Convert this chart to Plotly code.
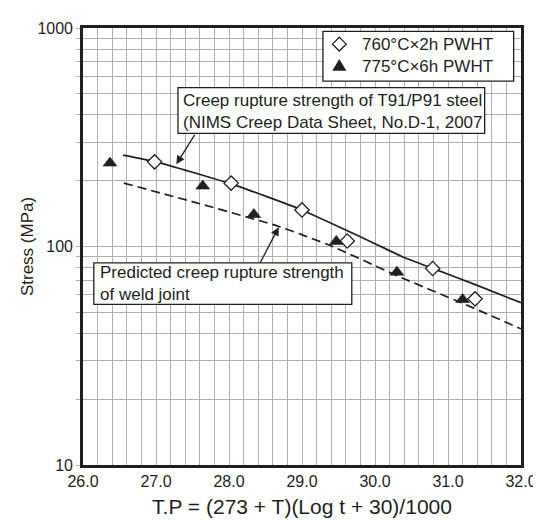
import plotly.graph_objects as go

# ---- data ----
solid_x = [26.55, 27.0, 28.0, 28.5, 29.0, 29.6, 30.0, 30.4, 30.8, 31.4, 32.0]
solid_y = [262, 244, 195, 170, 147, 119, 103, 89, 79.2, 66.4, 55.3]

dash_x = [26.56, 27.6, 28.67, 29.39, 30.33, 31.18, 32.0]
dash_y = [195, 157, 124, 101, 72.8, 55.3, 42]

d760_x = [26.98, 28.03, 29.0, 29.62, 30.79, 31.37]
d760_y = [244, 195, 147, 106, 79.3, 57.6]

t775_x = [26.37, 27.64, 28.34, 29.47, 30.30, 31.20]
t775_y = [241, 189, 140, 105.5, 76.3, 57.2]

x_ticks = [26, 27, 28, 29, 30, 31, 32]
x_tick_labels = ["26.0", "27.0", "28.0", "29.0", "30.0", "31.0", "32.0"]
y_ticks = [10, 100, 1000]
y_tick_labels = ["10", "100", "1000"]
y_minor = [m * d for d in (10, 100) for m in range(2, 10)]

legend_labels = ["760°C×2h PWHT", "775°C×6h PWHT"]
note_solid = ["Creep rupture strength of T91/P91 steel",
              "(NIMS Creep Data Sheet, No.D-1, 2007"]
note_dash = ["Predicted creep rupture strength", "of weld joint"]

# ---- layout geometry ----
W, H = 541, 520
L, R, T, B = 75, 20, 19, 54
PW, PH = W - L - R, H - T - B

def px(xp):
    return (xp - L) / PW

def py(yp):
    return (H - B - yp) / PH

FONT = "Liberation Sans, Arial, Helvetica, sans-serif"
INK = "#231f20"
GRID = "#b0b0b0"

fig = go.Figure()
fig.add_trace(go.Scatter(x=solid_x, y=solid_y, mode="lines",
                         line=dict(color=INK, width=1.7, shape="spline", smoothing=0.4),
                         showlegend=False, hoverinfo="skip"))
fig.add_trace(go.Scatter(x=dash_x, y=dash_y, mode="lines",
                         line=dict(color=INK, width=1.7, dash="9px,5px", shape="spline", smoothing=0.4),
                         showlegend=False, hoverinfo="skip"))
fig.add_trace(go.Scatter(x=d760_x, y=d760_y, mode="markers", name=legend_labels[0],
                         marker=dict(symbol="diamond", size=11, color="white",
                                     line=dict(color=INK, width=1.3)),
                         showlegend=False))
fig.add_trace(go.Scatter(x=t775_x, y=t775_y, mode="markers", name=legend_labels[1],
                         marker=dict(symbol="triangle-up", size=12, color=INK,
                                     line=dict(color=INK, width=0.6)),
                         showlegend=False))

shapes = []
annotations = []

def box(x0, y0, x1, y1):
    shapes.append(dict(type="rect", xref="paper", yref="paper",
                       x0=px(x0), x1=px(x1), y0=py(y1), y1=py(y0),
                       line=dict(color=INK, width=1.3), fillcolor="white", layer="above"))

def glyph(points, fill):
    path = "M " + " L ".join(f"{px(a):.5f},{py(b):.5f}" for a, b in points) + " Z"
    shapes.append(dict(type="path", xref="paper", yref="paper", path=path,
                       line=dict(color=INK, width=1.3), fillcolor=fill, layer="above"))

def text(xp, yp, lines):
    annotations.append(dict(xref="paper", yref="paper", x=px(xp), y=py(yp),
                            text="<br>".join(lines), showarrow=False,
                            xanchor="left", yanchor="middle",
                            align="left", valign="middle", borderpad=0,
                            font=dict(family=FONT, size=17, color=INK)))

def arrow(tail, tip):
    annotations.append(dict(xref="paper", yref="paper", x=px(tip[0]), y=py(tip[1]),
                            ax=tail[0] - tip[0], ay=tail[1] - tip[1], text="",
                            showarrow=True, arrowhead=2, arrowsize=1.3, arrowwidth=1.3,
                            arrowcolor=INK, standoff=0, startstandoff=0))

# legend box with its two symbols
box(319.3, 22.5, 513.5, 73.3)
glyph([(336, 28.5), (343, 35.5), (336, 42.5), (329, 35.5)], "white")
glyph([(336, 52), (342, 62), (330, 62)], INK)
text(358, 47.5, legend_labels)

# callout for solid curve
box(171.7, 80, 484, 126.7)
text(175.5, 104.8, note_solid)
arrow((189.3, 127.5), (170, 158.3))

# callout for dashed curve
box(86, 259.3, 348.7, 301.7)
text(91, 280.5, note_dash)
arrow((255, 259.8), (274.3, 222.7))

fig.update_layout(
    width=W, height=H,
    margin=dict(l=L, r=R, t=T, b=B),
    paper_bgcolor="white", plot_bgcolor="white",
    font=dict(family=FONT, size=16, color=INK),
    shapes=shapes, annotations=annotations,
    xaxis=dict(range=[26, 32], tickvals=x_ticks, ticktext=x_tick_labels,
               showgrid=True, gridcolor=GRID, gridwidth=1,
               minor=dict(dtick=0.2, showgrid=True, gridcolor=GRID, gridwidth=1),
               showline=True, mirror=True, linecolor=INK, linewidth=2.6,
               ticks="", tickfont=dict(size=16, color=INK), zeroline=False,
               title=dict(text="T.P = (273 + T)(Log t + 30)/1000",
                          font=dict(size=21, color=INK), standoff=11)),
    yaxis=dict(type="log", range=[1, 3], tickvals=y_ticks, ticktext=y_tick_labels,
               showgrid=True, gridcolor=GRID, gridwidth=1,
               minor=dict(tickvals=y_minor, showgrid=True, gridcolor=GRID, gridwidth=1,
                          ticks="outside", ticklen=4, tickcolor=GRID),
               ticks="outside", ticklen=4, tickcolor=GRID,
               showline=True, mirror=True, linecolor=INK, linewidth=2.6,
               tickfont=dict(size=16, color=INK), zeroline=False,
               title=dict(text="Stress (MPa)", font=dict(size=17, color=INK), standoff=0)),
)

fig.write_html("out.html")
